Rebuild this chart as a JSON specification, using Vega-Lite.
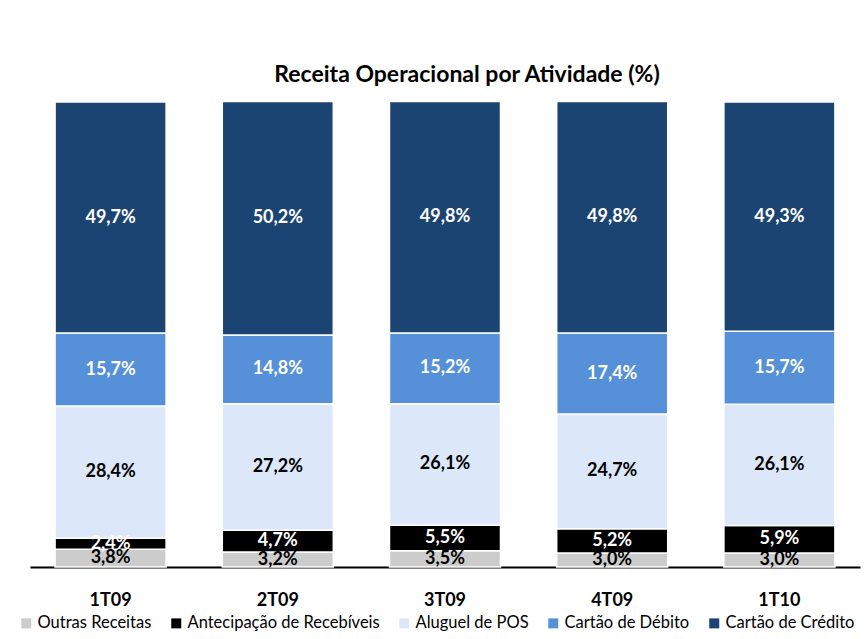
{
  "$schema": "https://vega.github.io/schema/vega-lite/v6.json",
  "width": 830,
  "height": 465,
  "autosize": {"type": "none"},
  "padding": {"left": 30, "top": 102, "right": 7, "bottom": 72},
  "background": "white",
  "title": {"text": "Receita Operacional por Atividade (%)", "font": "Lato", "fontSize": 23, "fontWeight": "bold", "color": "#000000", "anchor": "middle", "dx": 22, "offset": 14},
  "config": {"view": {"stroke": null}, "font": "Lato"},
  "data": {"values": [
    {"trimestre": "1T09", "serie": "Outras Receitas", "valor": 3.8, "rotulo": "3,8%"},
    {"trimestre": "1T09", "serie": "Antecipação de Recebíveis", "valor": 2.4, "rotulo": "2,4%"},
    {"trimestre": "1T09", "serie": "Aluguel de POS", "valor": 28.4, "rotulo": "28,4%"},
    {"trimestre": "1T09", "serie": "Cartão de Débito", "valor": 15.7, "rotulo": "15,7%"},
    {"trimestre": "1T09", "serie": "Cartão de Crédito", "valor": 49.7, "rotulo": "49,7%"},
    {"trimestre": "2T09", "serie": "Outras Receitas", "valor": 3.2, "rotulo": "3,2%"},
    {"trimestre": "2T09", "serie": "Antecipação de Recebíveis", "valor": 4.7, "rotulo": "4,7%"},
    {"trimestre": "2T09", "serie": "Aluguel de POS", "valor": 27.2, "rotulo": "27,2%"},
    {"trimestre": "2T09", "serie": "Cartão de Débito", "valor": 14.8, "rotulo": "14,8%"},
    {"trimestre": "2T09", "serie": "Cartão de Crédito", "valor": 50.2, "rotulo": "50,2%"},
    {"trimestre": "3T09", "serie": "Outras Receitas", "valor": 3.5, "rotulo": "3,5%"},
    {"trimestre": "3T09", "serie": "Antecipação de Recebíveis", "valor": 5.5, "rotulo": "5,5%"},
    {"trimestre": "3T09", "serie": "Aluguel de POS", "valor": 26.1, "rotulo": "26,1%"},
    {"trimestre": "3T09", "serie": "Cartão de Débito", "valor": 15.2, "rotulo": "15,2%"},
    {"trimestre": "3T09", "serie": "Cartão de Crédito", "valor": 49.8, "rotulo": "49,8%"},
    {"trimestre": "4T09", "serie": "Outras Receitas", "valor": 3.0, "rotulo": "3,0%"},
    {"trimestre": "4T09", "serie": "Antecipação de Recebíveis", "valor": 5.2, "rotulo": "5,2%"},
    {"trimestre": "4T09", "serie": "Aluguel de POS", "valor": 24.7, "rotulo": "24,7%"},
    {"trimestre": "4T09", "serie": "Cartão de Débito", "valor": 17.4, "rotulo": "17,4%"},
    {"trimestre": "4T09", "serie": "Cartão de Crédito", "valor": 49.8, "rotulo": "49,8%"},
    {"trimestre": "1T10", "serie": "Outras Receitas", "valor": 3.0, "rotulo": "3,0%"},
    {"trimestre": "1T10", "serie": "Antecipação de Recebíveis", "valor": 5.9, "rotulo": "5,9%"},
    {"trimestre": "1T10", "serie": "Aluguel de POS", "valor": 26.1, "rotulo": "26,1%"},
    {"trimestre": "1T10", "serie": "Cartão de Débito", "valor": 15.7, "rotulo": "15,7%"},
    {"trimestre": "1T10", "serie": "Cartão de Crédito", "valor": 49.3, "rotulo": "49,3%"}
  ]},
  "transform": [
    {"calculate": "indexof(['Outras Receitas','Antecipação de Recebíveis','Aluguel de POS','Cartão de Débito','Cartão de Crédito'], datum.serie)", "as": "ordem"},
    {"stack": "valor", "groupby": ["trimestre"], "sort": [{"field": "ordem", "order": "ascending"}], "as": ["v0", "v1"]},
    {"calculate": "(datum.v0 + datum.v1) / 2", "as": "meio"}
  ],
  "layer": [
    {
      "mark": {"type": "bar", "stroke": "white", "strokeWidth": 1.5},
      "encoding": {
        "x": {"field": "trimestre", "type": "nominal", "sort": ["1T09", "2T09", "3T09", "4T09", "1T10"],
          "scale": {"paddingInner": 0.336, "paddingOuter": 0.15},
          "axis": {"title": null, "labelAngle": 0, "labelFont": "Lato", "labelFontSize": 18, "labelFontWeight": "bold", "labelColor": "#000000", "labelPadding": 24, "ticks": false, "domainColor": "#000000", "domainWidth": 2}},
        "y": {"field": "v0", "type": "quantitative", "scale": {"domain": [0, 100], "nice": false}, "axis": null},
        "y2": {"field": "v1"},
        "color": {"field": "serie", "type": "nominal",
          "sort": ["Outras Receitas", "Antecipação de Recebíveis", "Aluguel de POS", "Cartão de Débito", "Cartão de Crédito"],
          "scale": {"domain": ["Outras Receitas", "Antecipação de Recebíveis", "Aluguel de POS", "Cartão de Débito", "Cartão de Crédito"],
                    "range": ["#cccccc", "#000000", "#dce8fa", "#5590d8", "#1c4472"]},
          "legend": {"title": null, "orient": "none", "direction": "horizontal", "legendX": -12, "legendY": 513,
                     "symbolType": "square", "symbolSize": 100, "symbolStrokeWidth": 0, "labelFont": "Lato", "labelFontSize": 16.5, "labelColor": "#000000", "labelLimit": 400,
                     "columnPadding": 16, "labelOffset": 3}}
      }
    },
    {
      "mark": {"type": "text", "font": "Lato", "fontSize": 18, "fontWeight": "bold", "baseline": "middle", "align": "center"},
      "encoding": {
        "x": {"field": "trimestre", "type": "nominal", "sort": ["1T09", "2T09", "3T09", "4T09", "1T10"]},
        "y": {"field": "meio", "type": "quantitative"},
        "text": {"field": "rotulo"},
        "color": {"condition": {"test": "datum.serie == 'Aluguel de POS' || datum.serie == 'Outras Receitas'", "value": "#000000"}, "value": "#ffffff"}
      }
    }
  ]
}
